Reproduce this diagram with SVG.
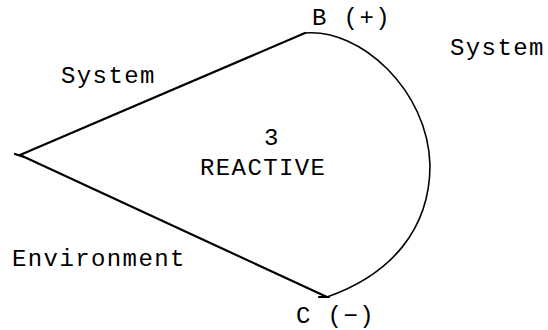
<svg xmlns="http://www.w3.org/2000/svg" width="548" height="330" viewBox="0 0 548 330">
<style>
text{font-family:"Liberation Mono","Courier New",monospace;font-size:24px;letter-spacing:1.4px;fill:#000}
.edge{stroke:#000;fill:none;stroke-width:2.2;stroke-linecap:round}
.arc{stroke:#000;fill:none;stroke-width:1.6}
</style>
<rect width="548" height="330" fill="#fff"/>
<g id="connectors">
<line class="edge" x1="20" y1="155" x2="305" y2="33"/>
<line class="edge" x1="20" y1="155" x2="327" y2="297"/>
<line class="edge" x1="15" y1="154" x2="24" y2="157"/>
<line class="edge" x1="319" y1="297" x2="329" y2="297"/>
<path class="arc" d="M305,33 C360,28 428,90 430,165 C430,230 390,275 327,297"/>
</g>
<g id="node-B"><text x="312" y="25">B (+)</text></g>
<g id="node-C"><text x="296" y="323">C (−)</text></g>
<g id="label-system-right"><text x="450" y="55">System</text></g>
<g id="label-system-left"><text x="61" y="83">System</text></g>
<g id="label-environment"><text x="12" y="266">Environment</text></g>
<g id="node-reactive"><text x="264" y="145">3</text><text x="200" y="175">REACTIVE</text></g>
</svg>
